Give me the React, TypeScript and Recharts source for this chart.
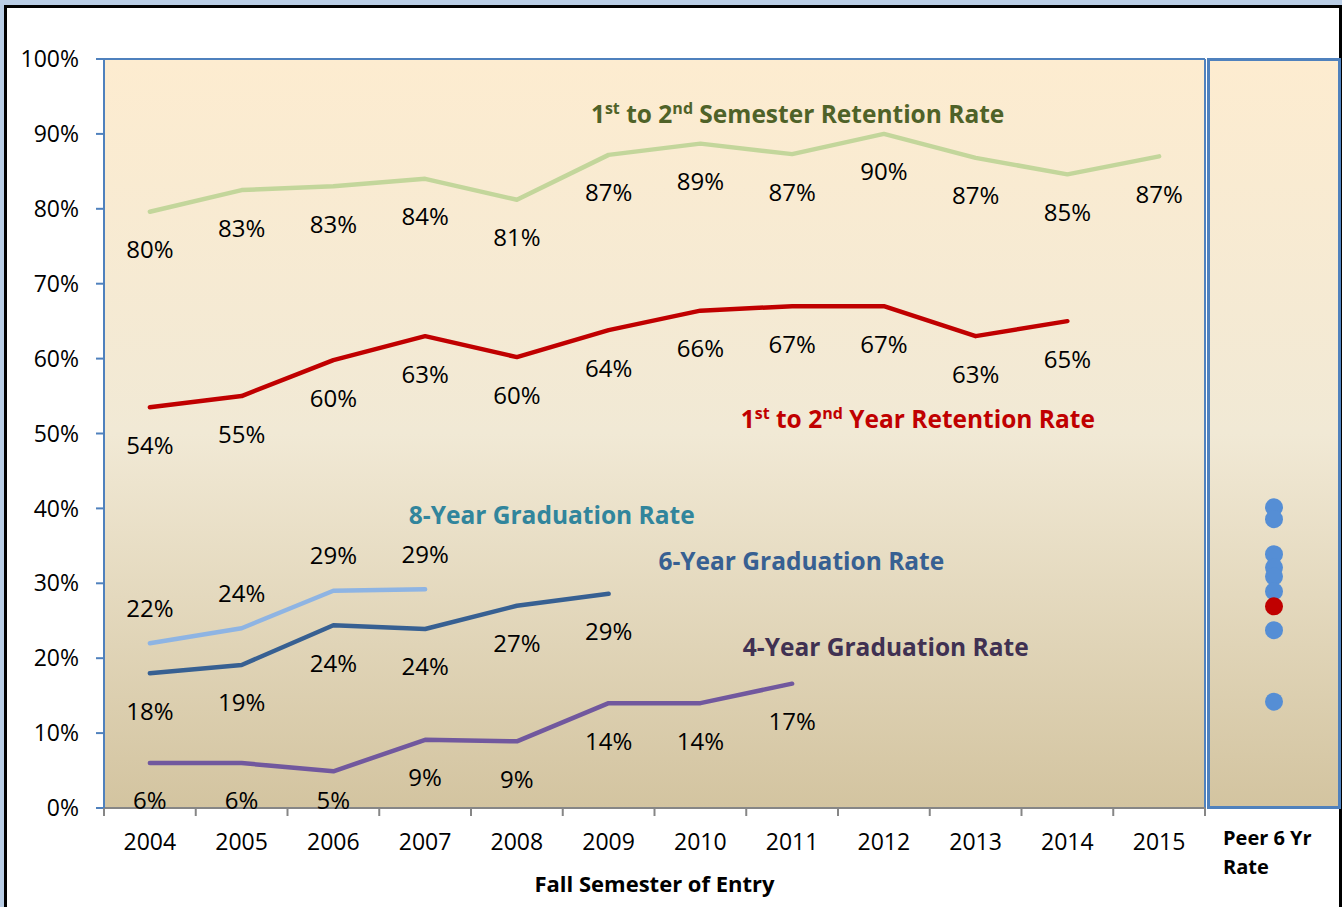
import React from 'react';
import {
  LineChart, Line, XAxis, YAxis, CartesianGrid, LabelList, ReferenceLine, ReferenceDot,
  ScatterChart, Scatter,
} from 'recharts';

const FONT = '"Open Sans", "DejaVu Sans", sans-serif';

const years = ['2004', '2005', '2006', '2007', '2008', '2009', '2010', '2011', '2012', '2013', '2014', '2015'];
const semesterRetention = [79.6, 82.5, 83.0, 84.0, 81.2, 87.2, 88.7, 87.3, 90.0, 86.8, 84.6, 87.0];
const yearRetention = [53.5, 55.0, 59.8, 63.0, 60.2, 63.8, 66.4, 67.0, 67.0, 63.0, 65.0, null];
const grad8Year = [22.0, 24.0, 29.0, 29.2, null, null, null, null, null, null, null, null];
const grad6Year = [18.0, 19.1, 24.4, 23.9, 27.0, 28.6, null, null, null, null, null, null];
const grad4Year = [6.0, 6.0, 4.9, 9.1, 8.9, 14.0, 14.0, 16.6, null, null, null, null];
const peerRates = [40.1, 38.5, 33.8, 32.0, 30.8, 28.8, 23.6, 14.0];
const ownRate = [26.8];
const yTicks = [0, 10, 20, 30, 40, 50, 60, 70, 80, 90, 100];

type Seg = { t: string; sup?: boolean };
const annotations: { x: number; y: number; color: string; parts: Seg[] }[] = [
  { x: 7.06, y: 91.45, color: '#4f6228', parts: [{ t: '1' }, { t: 'st', sup: true }, { t: ' to 2' }, { t: 'nd', sup: true }, { t: ' Semester Retention Rate' }] },
  { x: 8.37, y: 50.73, color: '#c00000', parts: [{ t: '1' }, { t: 'st', sup: true }, { t: ' to 2' }, { t: 'nd', sup: true }, { t: ' Year Retention Rate' }] },
  { x: 4.38, y: 37.92, color: '#31859c', parts: [{ t: '8-Year Graduation Rate' }] },
  { x: 7.10, y: 31.78, color: '#376092', parts: [{ t: '6-Year Graduation Rate' }] },
  { x: 8.02, y: 20.29, color: '#403152', parts: [{ t: '4-Year Graduation Rate' }] },
];

const data = years.map((year, i) => ({
  x: i,
  year,
  sem: semesterRetention[i],
  yr: yearRetention[i],
  g8: grad8Year[i],
  g6: grad6Year[i],
  g4: grad4Year[i],
}));

// category centres (labels) and category boundaries (tick marks)
const xTicks: number[] = [];
years.forEach((_, i) => { xTicks.push(i - 0.5); xTicks.push(i); });
xTicks.push(years.length - 0.5);

const peerData = peerRates.map((v) => ({ x: 0.5, y: v }));
const ownData = ownRate.map((v) => ({ x: 0.5, y: v }));

const XTick = (props: any) => {
  const { x, y, payload } = props;
  const v = payload.value as number;
  if (Number.isInteger(v)) {
    return (
      <text x={x} y={y + 42} textAnchor="middle" fontSize={23} fill="#000" fontFamily={FONT}>
        {years[v]}
      </text>
    );
  }
  return <line x1={x} x2={x} y1={y} y2={y + 8} stroke="#868686" strokeWidth={2} />;
};

const makeLabel = (offset: number) => (props: any) => {
  const { x, y, value } = props;
  if (value == null || x == null || y == null) return null;
  const ty = Math.min(y + offset, 809);
  return (
    <text x={x} y={ty} textAnchor="middle" fontSize={24} fill="#000" fontFamily={FONT}>
      {Math.round(value)}%
    </text>
  );
};

const makeAnnot = (parts: Seg[], color: string) => (p: any) => {
  const { cx, cy } = p;
  const nodes: React.ReactNode[] = [];
  let shifted = false;
  parts.forEach((s, i) => {
    if (s.sup) {
      nodes.push(<tspan key={i} dy={-9} fontSize={16}>{s.t}</tspan>);
      shifted = true;
    } else {
      nodes.push(<tspan key={i} dy={shifted ? 9 : 0}>{s.t}</tspan>);
      shifted = false;
    }
  });
  return (
    <text x={cx} y={cy} textAnchor="middle" fontSize={24.5} fontWeight={700} fill={color} fontFamily={FONT}>
      {nodes}
    </text>
  );
};

const gradStops = (
  <>
    <stop offset="0%" stopColor="#fdecd0" />
    <stop offset="50%" stopColor="#f1e9d5" />
    <stop offset="100%" stopColor="#d3c4a0" />
  </>
);

const dotShape = (color: string) => (p: any) => <circle cx={p.cx} cy={p.cy} r={9} fill={color} />;

export default function App() {
  return (
    <div style={{ position: 'absolute', left: 0, top: 0, width: 1342, height: 907, overflow: 'hidden', background: '#b9cde5', fontFamily: FONT }}>
      <div style={{ position: 'absolute', left: 4, top: 5, width: 1338, height: 940, background: '#fff', border: '3px solid #000', boxSizing: 'border-box' }} />
      <div style={{ position: 'absolute', left: 0, top: 0 }}>
        <LineChart width={1342} height={907} data={data} margin={{ top: 59, right: 137, bottom: 59, left: 24 }}>
          <defs>
            <linearGradient id="plotBg" x1="0" y1="0" x2="0" y2="1">{gradStops}</linearGradient>
          </defs>
          <CartesianGrid horizontal={false} vertical={false} fill="url(#plotBg)" stroke="none" />
          <XAxis
            type="number"
            dataKey="x"
            domain={[-0.5, years.length - 0.5]}
            ticks={xTicks}
            tick={<XTick />}
            tickLine={false}
            tickSize={0}
            tickMargin={0}
            axisLine={{ stroke: '#868686', strokeWidth: 2 }}
            height={40}
            interval={0}
          />
          <YAxis
            type="number"
            domain={[0, 100]}
            ticks={yTicks}
            tickFormatter={(v: number) => `${v}%`}
            width={80}
            tickSize={8}
            tickMargin={17}
            axisLine={{ stroke: '#4f81bd', strokeWidth: 2 }}
            tickLine={{ stroke: '#4f81bd', strokeWidth: 2 }}
            tick={{ fontSize: 23, fill: '#000', fontFamily: FONT }}
            interval={0}
          />
          <ReferenceLine y={100} stroke="#4f81bd" strokeWidth={2} />
          <ReferenceLine x={years.length - 0.5} stroke="#4f81bd" strokeWidth={2} />
          <Line dataKey="sem" stroke="#c3d69b" strokeWidth={4.5} dot={false} isAnimationActive={false} strokeLinecap="round" strokeLinejoin="round">
            <LabelList dataKey="sem" content={makeLabel(46.5)} />
          </Line>
          <Line dataKey="yr" stroke="#c00000" strokeWidth={4.5} dot={false} isAnimationActive={false} strokeLinecap="round" strokeLinejoin="round">
            <LabelList dataKey="yr" content={makeLabel(46.5)} />
          </Line>
          <Line dataKey="g8" stroke="#8eb4e3" strokeWidth={4.5} dot={false} isAnimationActive={false} strokeLinecap="round" strokeLinejoin="round">
            <LabelList dataKey="g8" content={makeLabel(-26.5)} />
          </Line>
          <Line dataKey="g6" stroke="#376092" strokeWidth={4.5} dot={false} isAnimationActive={false} strokeLinecap="round" strokeLinejoin="round">
            <LabelList dataKey="g6" content={makeLabel(46.5)} />
          </Line>
          <Line dataKey="g4" stroke="#71589e" strokeWidth={4.5} dot={false} isAnimationActive={false} strokeLinecap="round" strokeLinejoin="round">
            <LabelList dataKey="g4" content={makeLabel(46.5)} />
          </Line>
          {annotations.map((a, i) => (
            <ReferenceDot key={i} x={a.x} y={a.y} r={0} shape={makeAnnot(a.parts, a.color)} ifOverflow="visible" />
          ))}
        </LineChart>
      </div>
      <div style={{ position: 'absolute', left: 1207, top: 58, width: 134, height: 751, border: '3px solid #4f81bd', boxSizing: 'border-box' }}>
        <ScatterChart width={128} height={745} margin={{ top: 0, right: 0, bottom: 0, left: 0 }}>
          <defs>
            <linearGradient id="peerBg" x1="0" y1="0" x2="0" y2="1">{gradStops}</linearGradient>
          </defs>
          <CartesianGrid horizontal={false} vertical={false} fill="url(#peerBg)" stroke="none" />
          <XAxis type="number" dataKey="x" domain={[0, 1]} hide />
          <YAxis type="number" dataKey="y" domain={[0, 100]} hide width={0} />
          <Scatter data={peerData} fill="#558ed5" shape={dotShape('#558ed5')} isAnimationActive={false} />
          <Scatter data={ownData} fill="#c00000" shape={dotShape('#c00000')} isAnimationActive={false} />
        </ScatterChart>
      </div>
      <div style={{ position: 'absolute', left: 1223, top: 823, fontSize: 20, fontWeight: 700, lineHeight: '29px', color: '#000' }}>
        Peer 6 Yr<br />Rate
      </div>
      <div style={{ position: 'absolute', left: 104, top: 868, width: 1101, textAlign: 'center', fontSize: 22, fontWeight: 700, lineHeight: '30px', color: '#000' }}>
        Fall Semester of Entry
      </div>
    </div>
  );
}
